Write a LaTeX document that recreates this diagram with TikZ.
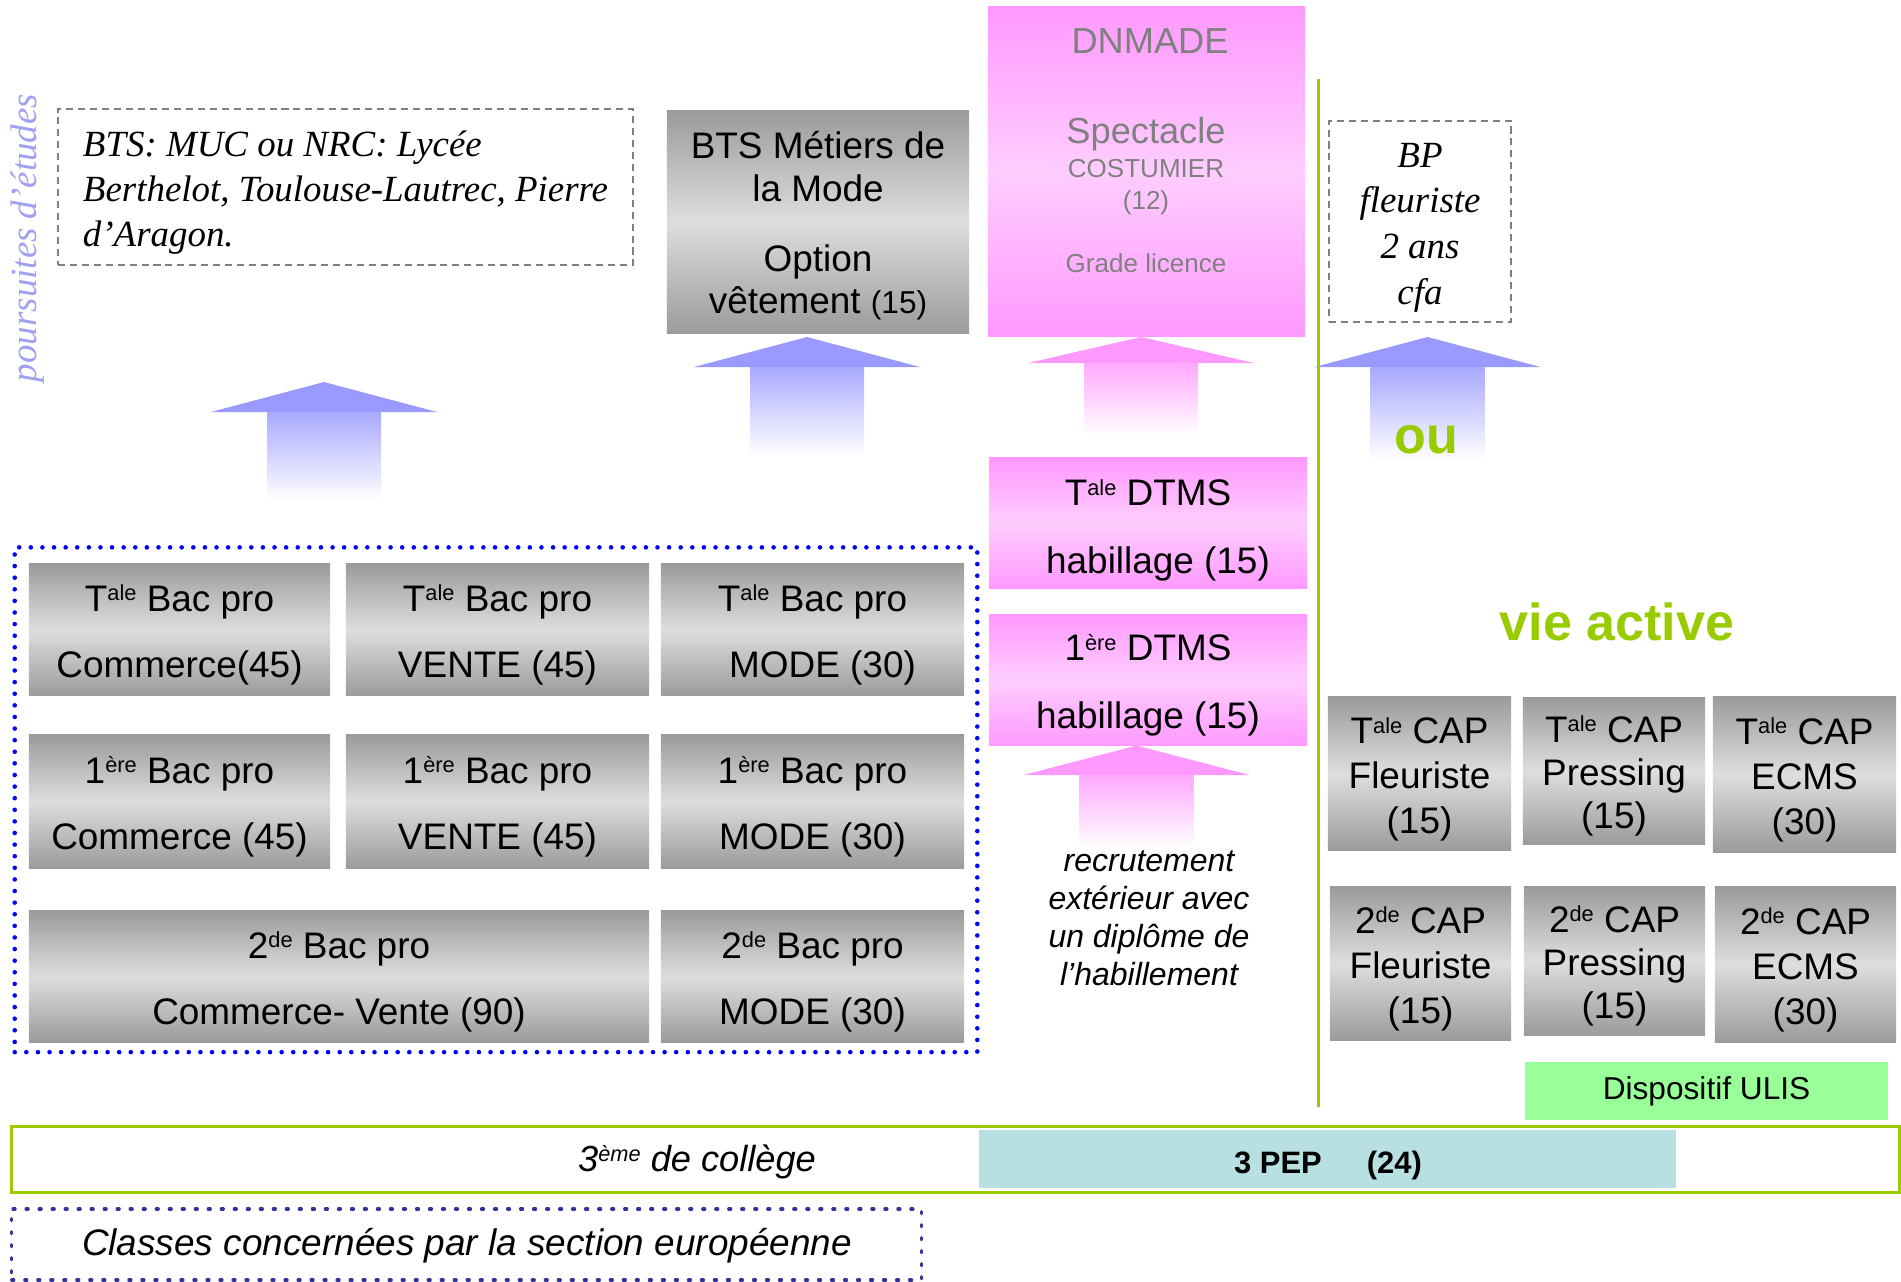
\documentclass[tikz,border=0pt]{standalone}
\usepackage{fontspec}
\setmainfont{Liberation Serif}
\setsansfont{Liberation Sans}
\newfontfamily\arial{Liberation Sans}
\newfontfamily\tnr{Liberation Serif}
\newcommand\fsz[2]{\fontsize{#1}{#2}\selectfont}
\newcommand\sups[1]{\raisebox{3pt}{\fsz{6.2}{6.2}#1}}
\newcommand\fl{\rule{0pt}{10.5pt}}
\definecolor{grayA}{RGB}{155,155,155}
\definecolor{grayB}{RGB}{222,222,222}
\definecolor{pinkA}{RGB}{255,153,255}
\definecolor{pinkB}{RGB}{255,205,255}
\definecolor{arrBlue}{RGB}{153,153,255}
\definecolor{arrPink}{RGB}{255,153,255}
\definecolor{vgreen}{RGB}{153,204,0}
\definecolor{ulisgreen}{RGB}{153,255,153}
\definecolor{pepblue}{RGB}{184,224,226}
\definecolor{dashgray}{RGB}{128,128,128}
\definecolor{txtgray}{RGB}{128,128,128}
\definecolor{navydot}{RGB}{51,51,153}
\definecolor{lavtext}{RGB}{160,160,240}
\newcommand\fatarrow[5]{%
  \fill[#1] (#2,#3) -- ({#2+113},{#3+#4}) -- ({#2-113},{#3+#4}) -- cycle;
  \shade[top color=#1!85!white, bottom color=white] ({#2-57},{#3+#4}) rectangle ({#2+57},#5);
}
\tikzset{
  graybox/.style={top color=grayA, bottom color=grayA, middle color=grayB, inner sep=0pt, align=center, font=\arial\fsz{10.5}{18.8}},
  pinkbox/.style={top color=pinkA, bottom color=pinkA, middle color=pinkB, inner sep=0pt, align=center},
  capbox/.style={graybox, font=\arial\fsz{10.5}{12.75}},
  dashbox/.style={draw=dashgray, line width=0.6pt, dash pattern=on 2pt off 1.4pt, inner sep=0pt},
  eurodots/.style={draw=blue, line width=1.3pt, dash pattern=on 0pt off 3.3pt, line cap=round, inner sep=0pt},
  navydots/.style={draw=navydot, line width=0.9pt, dash pattern=on 0.6pt off 3.1pt, line cap=round, inner sep=0pt},
  pinktext/.style={font=\arial\fsz{10.3}{12}, text=txtgray, anchor=base, inner sep=0pt},
  pinksmall/.style={font=\arial\fsz{7.4}{9}, text=txtgray, anchor=base, inner sep=0pt},
}
\begin{document}
\begin{tikzpicture}[x=0.01cm, y=-0.01cm]
\useasboundingbox (0,0) rectangle (1901,1281);

% vertical label
\node[rotate=90, font=\tnr\itshape\fsz{10.5}{12}, text=lavtext] (pours) at (28,238) {poursuites d’études};

% top boxes
\node[dashbox, minimum width=5.75cm, minimum height=1.56cm] (bts) at (345.5,187) {};
\node[align=left, inner sep=0pt, font=\tnr\itshape\fsz{10.5}{12.8}] (btstext) at (345.5,193) {BTS: MUC ou NRC: Lycée\\Berthelot, Toulouse-Lautrec, Pierre\\d’Aragon.};
\node[graybox, minimum width=3.02cm, minimum height=2.22cm] (btsm) at (818,222) {};
\node[align=center, inner sep=0pt, font=\arial\fsz{10.5}{12}] (btsmtext) at (818,226) {BTS Métiers de\\la Mode\\[8pt]Option\\vêtement {\fsz{9}{12}(15)}};

\node[pinkbox, minimum width=3.17cm, minimum height=3.29cm] (dnmade) at (1146.5,171.5) {};
\node[pinktext] (dn1) at (1150,53) {DNMADE};
\node[pinktext] (dn2) at (1146,143) {Spectacle};
\node[pinksmall] (dn3) at (1146,177) {COSTUMIER};
\node[pinksmall] (dn4) at (1146,209) {(12)};
\node[pinksmall] (dn5) at (1146,272) {Grade licence};

\node[dashbox, minimum width=1.82cm, minimum height=2.01cm] (bp) at (1420,221.5) {};
\node[align=center, inner sep=0pt, font=\tnr\itshape\fsz{10.5}{13}] (bptext) at (1420,227.5) {BP\\fleuriste\\2 ans\\cfa};

% arrows
\fatarrow{arrBlue}{324}{382}{30}{500}
\fatarrow{arrBlue}{807}{337}{30}{455}
\fatarrow{arrPink}{1141}{337}{26}{435}
\fatarrow{arrBlue}{1427.5}{337}{30}{460}
\fatarrow{arrPink}{1136.5}{745.5}{29.5}{847}

\node[font=\arial\bfseries\fsz{14.8}{16}, text=vgreen] (ou) at (1426,440) {ou};
\node[font=\arial\bfseries\fsz{14.8}{16}, text=vgreen] (vie) at (1617,621.5) {vie active};

% DTMS
\node[pinkbox, minimum width=3.18cm, minimum height=1.30cm, font=\arial\fsz{10.5}{19.2}] (tdtms) at (1148,523) {\rule{0pt}{11.5pt}T\sups{ale} DTMS\\\hspace*{5.7pt}habillage (15)};
\node[pinkbox, minimum width=3.18cm, minimum height=1.305cm, font=\arial\fsz{10.5}{19.2}] (pdtms) at (1148,680) {\fl 1\sups{ère} DTMS\\habillage (15)};
\node[align=center, font=\arial\itshape\fsz{9.1}{10.8}] (recr) at (1149,918) {recrutement\\extérieur avec\\un diplôme de\\l’habillement};

% Bac pro
\node[eurodots, minimum width=9.62cm, minimum height=5.045cm] (euro) at (496,799.75) {};
\node[graybox, minimum width=3.01cm, minimum height=1.32cm] (tcom) at (179.5,629.7) {\fl T\sups{ale} Bac pro\\Commerce(45)};
\node[graybox, minimum width=3.03cm, minimum height=1.32cm] (tven) at (497.5,629.7) {\fl T\sups{ale} Bac pro\\VENTE (45)};
\node[graybox, minimum width=3.03cm, minimum height=1.32cm] (tmod) at (812.5,629.7) {\fl T\sups{ale} Bac pro\\\hspace*{5.7pt}MODE (30)};
\node[graybox, minimum width=3.01cm, minimum height=1.33cm] (pcom) at (179.5,801.5) {\fl 1\sups{ère} Bac pro\\Commerce (45)};
\node[graybox, minimum width=3.03cm, minimum height=1.33cm] (pven) at (497.5,801.5) {\fl 1\sups{ère} Bac pro\\VENTE (45)};
\node[graybox, minimum width=3.03cm, minimum height=1.33cm] (pmod) at (812.5,801.5) {\fl 1\sups{ère} Bac pro\\MODE (30)};
\node[graybox, minimum width=6.20cm, minimum height=1.31cm] (scv) at (339,976.5) {\fl 2\sups{de} Bac pro\\Commerce- Vente (90)};
\node[graybox, minimum width=3.03cm, minimum height=1.31cm] (smod) at (812.5,976.5) {\fl 2\sups{de} Bac pro\\MODE (30)};

% CAP
\node[capbox, minimum width=1.83cm, minimum height=1.536cm] (capTF) at (1419.5,773.8) {\fl T\sups{ale} CAP\\Fleuriste\\(15)};
\node[capbox, minimum width=1.82cm, minimum height=1.47cm, font=\arial\fsz{10.5}{12.3}] (capTP) at (1614,771) {\fl T\sups{ale} CAP\\Pressing\\(15)};
\node[capbox, minimum width=1.83cm, minimum height=1.55cm] (capTE) at (1804.5,774.5) {\fl T\sups{ale} CAP\\ECMS\\(30)};
\node[capbox, minimum width=1.81cm, minimum height=1.53cm] (capSF) at (1420.5,963.5) {\fl 2\sups{de} CAP\\Fleuriste\\(15)};
\node[capbox, minimum width=1.81cm, minimum height=1.48cm, font=\arial\fsz{10.5}{12.3}] (capSP) at (1614.5,961) {\fl 2\sups{de} CAP\\Pressing\\(15)};
\node[capbox, minimum width=1.81cm, minimum height=1.55cm] (capSE) at (1805.5,964.5) {\fl 2\sups{de} CAP\\ECMS\\(30)};

\node[fill=ulisgreen, minimum width=3.63cm, minimum height=0.58cm, inner sep=0pt, font=\arial\fsz{9}{11}] (ulis) at (1706.5,1091) {Dispositif ULIS};

% green separator
\coordinate (gtop) at (1318,79);
\coordinate (gbot) at (1318,1107);
\draw[vgreen, line width=0.85pt] (gtop) -- (gbot);

% bottom bars
\node[draw=vgreen, line width=0.85pt, minimum width=18.87cm, minimum height=0.66cm, inner sep=0pt] (college) at (955.5,1159) {};
\node[font=\arial\itshape\fsz{10.3}{12}] (coltext) at (697,1162) {3\sups{ème} de collège};
\node[fill=pepblue, minimum width=6.97cm, minimum height=0.58cm, inner sep=0pt] (pep) at (1327.5,1159) {};
\node[inner sep=0pt, font=\arial\bfseries\fsz{8.8}{10}] (peptext) at (1328,1165) {3 PEP\hspace{12.8pt}(24)};

\node[navydots, minimum width=9.09cm, minimum height=0.71cm] (classes) at (466.5,1244.5) {};
\node[inner sep=0pt, font=\arial\itshape\fsz{10.5}{12}] (classtext) at (467,1246) {Classes concernées par la section européenne};
\end{tikzpicture}
\end{document}
